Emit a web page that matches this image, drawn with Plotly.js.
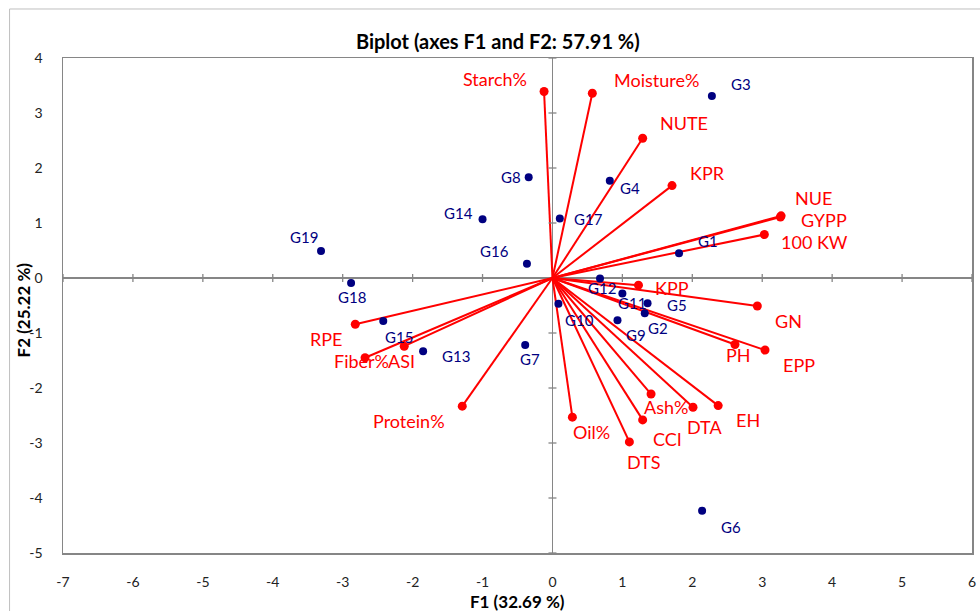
<!DOCTYPE html>
<html>
<head>
<meta charset="utf-8">
<script src="https://cdn.plot.ly/plotly-3.0.1.min.js"></script>
<style>html,body{margin:0;padding:0;background:#fff;}#chart{width:980px;height:611px;}</style>
</head>
<body>
<div id="chart"></div>
<script>
// ---- Data ----
const genotypes = ['G1','G2','G3','G4','G5','G6','G7','G8','G9','G10','G11','G12','G13','G14','G15','G16','G17','G18','G19'];
const genoF1 = [1.81, 1.32, 2.28, 0.82, 1.36, 2.14, -0.39, -0.34, 0.93, 0.085, 1.00, 0.68, -1.85, -1.00, -2.42, -0.365, 0.105, -2.88, -3.31];
const genoF2 = [0.45, -0.64, 3.31, 1.77, -0.46, -4.23, -1.22, 1.83, -0.77, -0.47, -0.28, -0.01, -1.33, 1.07, -0.78, 0.26, 1.08, -0.09, 0.49];

const variables = ['Starch%','Moisture%','NUTE','KPR','NUE','GYPP','100 KW','KPP','GN','PH','EPP','Ash%','DTA','EH','Oil%','CCI','DTS','RPE','ASI','Fiber%','Protein%'];
const varF1 = [-0.12, 0.57, 1.29, 1.71, 3.27, 3.26, 3.03, 1.23, 2.93, 2.61, 3.04, 1.41, 2.01, 2.37, 0.285, 1.29, 1.10, -2.82, -2.12, -2.68, -1.29];
const varF2 = [3.39, 3.36, 2.54, 1.68, 1.13, 1.11, 0.79, -0.13, -0.51, -1.21, -1.31, -2.11, -2.35, -2.32, -2.53, -2.58, -2.98, -0.84, -1.24, -1.45, -2.33];

const xTicks = [-7,-6,-5,-4,-3,-2,-1,0,1,2,3,4,5,6];
const yTicks = [-5,-4,-3,-2,-1,0,1,2,3,4];

// ---- Style: label offsets in pixels [dx right, dy down] ----
const genoLabelOffset = {
  G1:[29,-12], G2:[13,15], G3:[29,-12], G4:[20,7], G5:[29,2], G6:[29,16], G7:[5,14],
  G8:[-18,0], G9:[19,15], G10:[21,16], G11:[10,10], G12:[2,9], G13:[33,5], G14:[-24,-6],
  G15:[16,16], G16:[-32,-13], G17:[29,0], G18:[1,14], G19:[-17,-14]
};
const varLabelOffset = {
  'Starch%':[-49,-13], 'Moisture%':[64,-13], 'NUTE':[41,-15], 'KPR':[35,-13], 'NUE':[32,-18],
  'GYPP':[44,3], '100 KW':[50,7], 'KPP':[34,3], 'GN':[31,15], 'PH':[4,10], 'EPP':[34,15],
  'Ash%':[15,13], 'DTA':[11,20], 'EH':[30,14], 'Oil%':[19,15], 'CCI':[25,19], 'DTS':[14,20],
  'RPE':[-29,15], 'ASI':[-3,15], 'Fiber%':[-4,3], 'Protein%':[-53,15]
};

const RED = '#FF0000';
const NAVY = '#000080';
const AXIS = '#868686';
const FONT = 'Lato, "Open Sans", sans-serif';

// vector lines built from variable arrays
const lx = [], ly = [];
for (let i = 0; i < variables.length; i++) {
  lx.push(0, varF1[i], null);
  ly.push(0, varF2[i], null);
}

const traces = [
  { type:'scatter', mode:'lines', x:lx, y:ly, line:{color:RED, width:2}, hoverinfo:'skip', showlegend:false, cliponaxis:false },
  { type:'scatter', mode:'markers', x:varF1, y:varF2, text:variables, marker:{color:RED, size:9}, showlegend:false, cliponaxis:false },
  { type:'scatter', mode:'markers', x:genoF1, y:genoF2, text:genotypes, marker:{color:NAVY, size:8}, showlegend:false, cliponaxis:false }
];

const annotations = [];
genotypes.forEach((g, i) => {
  const o = genoLabelOffset[g] || [0,0];
  annotations.push({ x:genoF1[i], y:genoF2[i], xref:'x', yref:'y', text:g, showarrow:false,
    xshift:o[0], yshift:-o[1], font:{family:FONT, size:15, color:NAVY} });
});
variables.forEach((v, i) => {
  const o = varLabelOffset[v] || [0,0];
  annotations.push({ x:varF1[i], y:varF2[i], xref:'x', yref:'y', text:v, showarrow:false,
    xshift:o[0], yshift:-o[1], font:{family:FONT, size:18, color:RED} });
});
// axis titles
annotations.push({ xref:'paper', yref:'paper', x:0.5, y:-0.097, text:'<b>F1 (32.69 %)</b>', showarrow:false,
  font:{family:FONT, size:17, color:'#000'}, yanchor:'middle' });
annotations.push({ xref:'paper', yref:'paper', x:-0.044, y:0.49, text:'<b>F2 (25.22 %)</b>', showarrow:false,
  textangle:-90, font:{family:FONT, size:17, color:'#000'}, xanchor:'center', yanchor:'middle' });

// cross tick marks on the zero lines
const shapes = [];
xTicks.forEach(t => {
  if (t === 0) return;
  shapes.push({ type:'line', xref:'x', yref:'y', x0:t, x1:t, ysizemode:'pixel', yanchor:0, y0:-4, y1:4,
    line:{color:AXIS, width:1.3} });
});
yTicks.forEach(t => {
  if (t === 0) return;
  shapes.push({ type:'line', xref:'x', yref:'y', y0:t, y1:t, xsizemode:'pixel', xanchor:0, x0:-4, x1:4,
    line:{color:AXIS, width:1.3} });
});
// outer chart border
shapes.push({ type:'rect', xref:'paper', yref:'paper', x0:-0.0588, x1:1.05, y0:-0.2, y1:1.099,
  line:{color:'#BFBFBF', width:1}, layer:'below' });

const layout = {
  width:980, height:611,
  margin:{l:63, r:8, t:58, b:58, pad:0},
  paper_bgcolor:'#fff', plot_bgcolor:'#fff',
  font:{family:FONT, color:'#222'},
  title:{ text:'<b>Biplot (axes F1 and F2: 57.91 %)</b>', font:{family:FONT, size:20, color:'#000'},
    x:0.508, xref:'container', xanchor:'center', y:1-42/611, yref:'container', yanchor:'middle' },
  xaxis:{ range:[-7,6], tickvals:xTicks, ticktext:xTicks.map(String), showgrid:false,
    zeroline:true, zerolinecolor:AXIS, zerolinewidth:1.5,
    showline:true, mirror:true, linecolor:AXIS, linewidth:1.5, ticks:'', ticklabelstandoff:16,
    tickfont:{family:FONT, size:14, color:'#222'} },
  yaxis:{ range:[-5,4], tickvals:yTicks, ticktext:yTicks.map(String), showgrid:false,
    zeroline:true, zerolinecolor:AXIS, zerolinewidth:1.5,
    showline:true, mirror:true, linecolor:AXIS, linewidth:1.5, ticks:'', ticklabelstandoff:16,
    tickfont:{family:FONT, size:14, color:'#222'} },
  annotations:annotations,
  shapes:shapes,
  showlegend:false
};

Plotly.newPlot('chart', traces, layout, {displayModeBar:false, staticPlot:true});
</script>
</body>
</html>
